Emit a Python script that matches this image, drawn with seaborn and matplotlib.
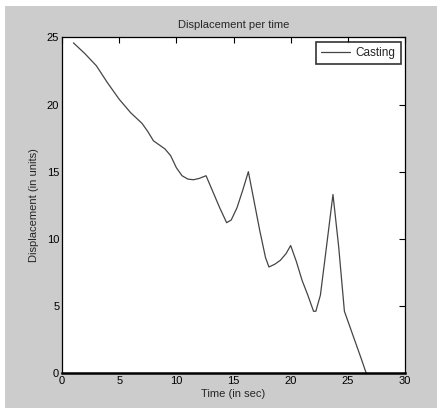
import numpy as np
import pandas as pd
import matplotlib
matplotlib.use("Agg")
import matplotlib.pyplot as plt
from matplotlib.patches import Rectangle
import seaborn as sns

# values
time_sec = [1, 2, 3, 4, 5, 6, 7, 7.5, 8, 8.5, 9, 9.5, 10, 10.5, 11, 11.5, 12, 12.6,
            13.2, 13.8, 14.4, 14.8, 15.3, 15.8, 16.3, 16.8, 17.3, 17.8, 18.1, 18.6,
            19.1, 19.6, 20.0, 20.5, 21.0, 21.5, 22.0, 22.2, 22.6, 23.0, 23.7, 24.2,
            24.7, 25.2, 25.7, 26.2, 26.6]
displacement = [24.6, 23.8, 22.9, 21.6, 20.4, 19.4, 18.6, 18.0, 17.3, 17.0, 16.7, 16.2,
                15.3, 14.7, 14.45, 14.4, 14.5, 14.7, 13.5, 12.3, 11.2, 11.4, 12.3, 13.6,
                15.0, 12.8, 10.6, 8.6, 7.9, 8.1, 8.4, 8.9, 9.5, 8.3, 6.9, 5.8, 4.6, 4.6,
                5.8, 8.5, 13.3, 9.4, 4.6, 3.4, 2.2, 1.0, 0.0]
x_ticks = [0, 5, 10, 15, 20, 25, 30]
y_ticks = [0, 5, 10, 15, 20, 25]

df = pd.DataFrame({"Time": time_sec, "Displacement": displacement})

sns.set_style("white")
plt.rcParams["font.family"] = ["Liberation Sans", "DejaVu Sans"]

fig = plt.figure(figsize=(4.42, 4.18), dpi=100)
fig.patch.set_facecolor("white")
# grey matlab style figure background
fig.patches.append(Rectangle((5 / 442, 10 / 418), 432 / 442, 402 / 418,
                             transform=fig.transFigure, facecolor="#cccccc",
                             edgecolor="none", zorder=-10))

ax = fig.add_axes([62 / 442, 45 / 418, 343 / 442, 335.5 / 418])
ax.set_facecolor("white")

sns.lineplot(data=df, x="Time", y="Displacement", ax=ax, color="#454545",
             linewidth=0.9, label="Casting", estimator=None, sort=False)

ax.set_xlim(0, 30)
ax.set_ylim(0, 25)
ax.set_xticks(x_ticks)
ax.set_yticks(y_ticks)
ax.tick_params(direction="in", length=4, width=0.8, top=True, right=True,
               labelsize=8, pad=2, colors="black")
for side in ["left", "right", "top", "bottom"]:
    ax.spines[side].set_visible(True)
    ax.spines[side].set_color("black")
    ax.spines[side].set_linewidth(0.9)
ax.spines["bottom"].set_linewidth(1.8)

ax.set_title("Displacement per time", fontsize=8, pad=7)
ax.set_xlabel("Time (in sec)", fontsize=8, labelpad=2)
ax.set_ylabel("Displacement (in units)", fontsize=8, labelpad=6)

leg = ax.legend(loc="upper right", fontsize=8.5, frameon=True, fancybox=False,
                handlelength=2.4, handletextpad=0.5, borderpad=0.45,
                borderaxespad=0.35)
leg.get_frame().set_edgecolor("black")
leg.get_frame().set_linewidth(1.2)

fig.savefig("out.png", dpi=100)
